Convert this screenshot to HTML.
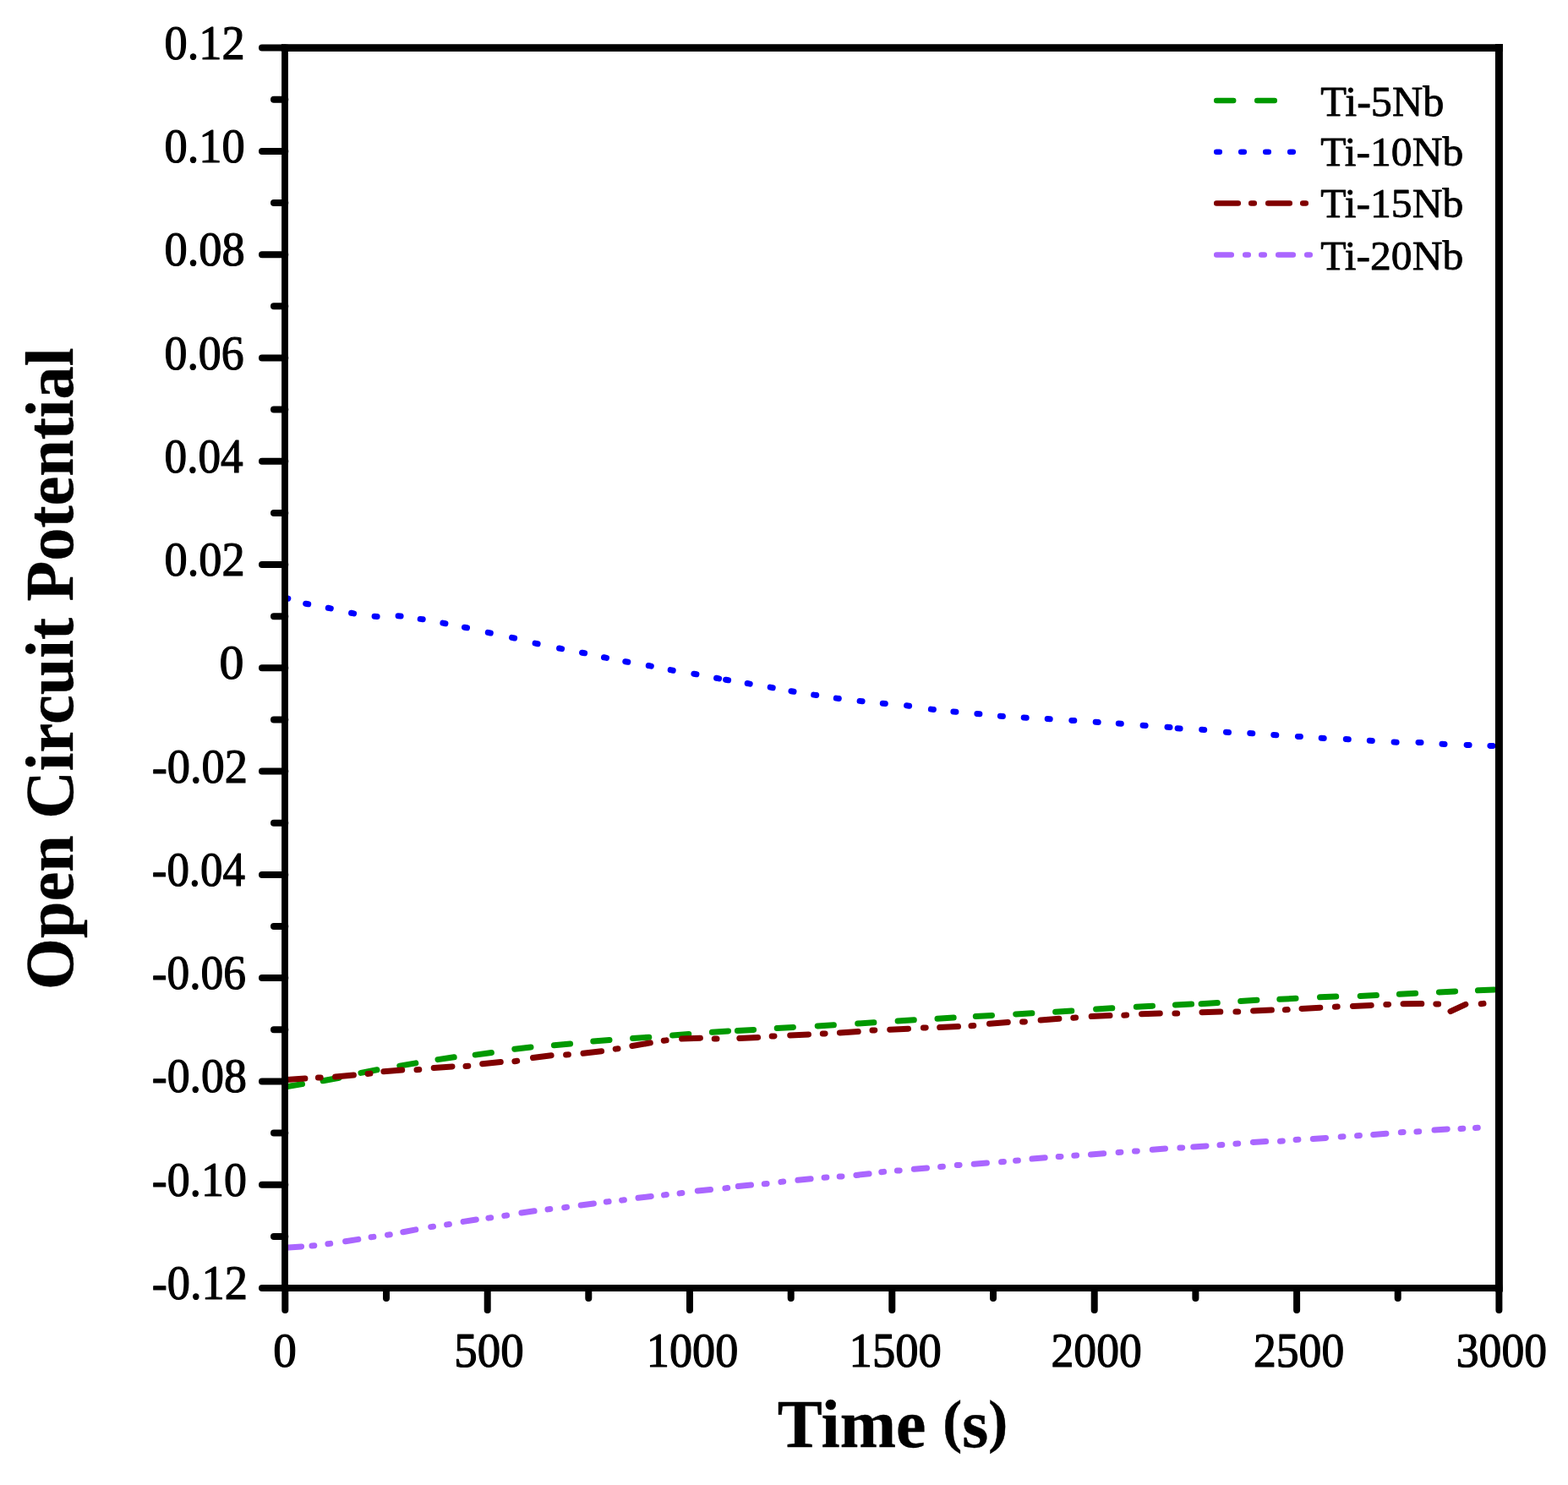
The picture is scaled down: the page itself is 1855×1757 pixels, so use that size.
<!DOCTYPE html>
<html><head><meta charset="utf-8"><title>Open Circuit Potential vs Time</title>
<style>html,body{margin:0;padding:0;background:#fff;overflow:hidden}svg{display:block}</style>
</head><body>
<svg width="1855" height="1757" viewBox="0 0 1855 1757"><rect x="0" y="0" width="1855" height="1757" fill="#fff"/>
<g><path d="M338.5 1285.8L357.5 1282.6M382.1 1278.8L401.1 1275.2M427.0 1269.4L446.0 1265.8M472.8 1261.1L491.8 1257.9M518.0 1253.6L537.2 1250.8M562.2 1248.1L581.4 1245.5M608.8 1241.2L628.0 1239.0M655.4 1236.7L674.6 1234.9M701.8 1232.0L721.0 1230.4M748.6 1228.6L767.8 1227.2M795.6 1225.0L814.8 1223.6M842.4 1221.3L861.6 1219.9M872.4 1219.6L891.6 1218.4M919.2 1216.6L938.4 1215.4M967.2 1213.9L986.4 1212.7M1014.7 1211.0L1033.9 1209.8M1062.1 1208.0L1081.3 1206.8M1109.0 1205.3L1128.2 1204.1M1154.3 1202.6L1173.5 1201.4M1201.7 1199.9L1220.9 1198.7M1248.6 1197.2L1267.8 1196.0M1296.6 1194.0L1315.8 1192.8M1344.3 1191.2L1363.5 1190.2M1390.4 1188.9L1409.6 1188.1M1421.1 1187.8L1440.3 1186.6M1467.7 1184.5L1486.9 1183.3M1513.8 1182.3L1533.0 1181.3M1561.5 1179.8L1580.7 1179.0M1609.2 1178.4L1628.4 1177.6M1655.4 1176.3L1674.6 1175.3M1702.4 1173.9L1721.6 1172.9M1748.4 1171.8L1767.6 1171.0" fill="none" stroke="#009900" stroke-width="7.0" stroke-linecap="round"/><path d="M339.1 1277.4L360.9 1276.0M376.4 1275.1L379.2 1274.9M396.6 1273.9L418.4 1272.1M435.1 1270.5L437.9 1270.1M453.9 1267.7L475.7 1265.9M493.0 1265.8L495.8 1265.6M513.2 1263.5L535.0 1261.9M551.0 1261.5L553.8 1261.3M570.7 1258.7L592.3 1256.5M608.9 1255.7L611.7 1255.3M630.5 1251.5L652.1 1248.7M669.6 1248.0L672.4 1247.8M690.0 1246.3L711.6 1243.7M728.2 1241.1L731.0 1240.7M747.9 1237.5L769.3 1233.9M785.3 1231.3L788.1 1230.9M806.6 1229.0L828.4 1228.2M845.2 1229.1L848.0 1229.1M874.8 1228.4L896.6 1227.4M913.2 1226.1L916.0 1225.9M934.7 1224.9L956.5 1223.9M973.3 1223.1L976.1 1222.9M993.4 1221.9L1015.2 1220.5M1032.0 1219.1L1034.8 1218.9M1052.7 1218.2L1074.5 1217.2M1092.4 1216.1L1095.2 1215.9M1111.7 1215.5L1133.5 1214.5M1149.0 1213.7L1151.8 1213.5M1170.5 1211.2L1192.3 1209.6M1209.6 1209.1L1212.4 1208.9M1231.1 1207.0L1252.9 1205.2M1269.8 1204.3L1272.6 1204.1M1291.2 1202.5L1313.0 1201.5M1329.8 1201.3L1332.6 1201.1M1350.5 1199.7L1372.3 1198.9M1389.9 1199.0L1392.7 1199.0M1422.0 1197.7L1443.8 1197.1M1461.9 1197.1L1464.7 1197.1M1482.6 1195.9L1504.4 1195.1M1520.4 1194.8L1523.2 1194.6M1540.0 1193.4L1561.8 1192.2M1579.4 1191.3L1582.2 1191.1M1600.4 1190.4L1622.2 1189.4M1639.8 1188.6L1642.6 1188.4M1660.0 1187.8L1681.8 1187.6M1698.8 1187.9L1701.6 1188.1M1716.0 1196.6L1733.8 1188.3M1752.2 1187.8L1755.0 1187.4" fill="none" stroke="#800000" stroke-width="7.0" stroke-linecap="round"/><path d="M341.4 1476.1L356.6 1474.9M369.0 1473.9L371.8 1473.7M387.9 1471.8L390.7 1471.4M408.6 1468.8L423.8 1466.4M439.1 1463.8L441.9 1463.4M458.5 1461.1L461.3 1460.7M476.8 1457.7L491.8 1454.9M509.7 1451.6L512.5 1451.2M528.6 1448.9L531.4 1448.5M548.1 1445.4L563.3 1443.0M577.9 1441.1L580.7 1440.7M596.8 1438.4L599.6 1438.0M616.9 1435.0L632.1 1432.8M648.0 1430.9L650.8 1430.5M667.7 1428.7L670.5 1428.3M687.2 1426.0L702.4 1424.0M717.3 1422.0L720.1 1421.6M735.6 1420.1L738.4 1419.7M755.0 1417.3L770.2 1415.5M785.5 1413.9L788.3 1413.5M804.1 1411.9L806.9 1411.5M825.3 1409.0L840.5 1407.4M857.9 1405.9L860.7 1405.5M873.3 1403.6L888.5 1402.0M904.3 1400.7L907.1 1400.5M923.9 1398.4L926.7 1398.0M943.9 1396.3L959.1 1394.7M975.1 1393.2L977.9 1393.0M993.2 1392.1L996.0 1391.9M1012.9 1390.4L1028.1 1388.8M1042.8 1386.8L1045.6 1386.4M1061.4 1385.1L1064.2 1384.9M1081.3 1383.3L1096.5 1381.9M1112.6 1380.5L1115.4 1380.3M1132.3 1378.6L1135.1 1378.4M1152.2 1377.2L1167.4 1376.0M1184.6 1374.8L1187.4 1374.6M1201.6 1373.2L1204.4 1373.0M1221.0 1371.1L1236.2 1369.7M1252.2 1368.6L1255.0 1368.4M1270.8 1367.3L1273.6 1367.1M1290.5 1365.9L1305.7 1364.7M1323.1 1363.5L1325.9 1363.3M1342.5 1362.1L1345.3 1361.9M1363.3 1360.2L1378.5 1359.0M1395.9 1358.1L1398.7 1357.9M1411.8 1356.9L1427.0 1355.9M1443.0 1354.8L1445.8 1354.6M1461.9 1353.2L1464.7 1353.0M1482.4 1351.4L1497.6 1350.6M1514.5 1350.3L1517.3 1350.1M1533.1 1348.4L1535.9 1348.2M1553.3 1347.4L1568.5 1346.4M1586.2 1344.9L1589.0 1344.7M1605.6 1343.8L1608.4 1343.6M1624.7 1342.4L1639.9 1341.2M1657.3 1339.7L1660.1 1339.5M1675.9 1338.9L1678.7 1338.7M1697.0 1336.9L1712.2 1335.9M1728.0 1335.4L1730.8 1335.2M1745.5 1334.4L1748.3 1334.2" fill="none" stroke="#AA66FF" stroke-width="7.0" stroke-linecap="round"/><path d="M338.0 707.4L340.8 708.2M361.7 714.2L364.7 714.8M388.3 719.3L391.3 719.9M415.6 725.3L418.6 725.9M443.1 729.2L446.1 729.4M471.1 728.7L474.1 728.9M497.2 732.4L500.2 732.8M523.9 737.1L526.9 737.7M549.5 742.2L552.5 742.8M577.3 748.4L580.3 749.0M605.6 754.4L608.6 755.0M633.1 761.1L636.1 761.7M661.6 767.0L664.6 767.6M688.6 772.2L691.6 772.8M714.5 777.8L717.5 778.4M739.8 782.7L742.8 783.3M767.3 787.5L770.3 788.1M793.2 792.6L796.2 793.2M820.9 797.2L823.9 797.8M847.6 802.3L850.6 802.9M858.6 804.2L861.6 804.8M884.2 808.5L887.2 809.1M911.2 813.1L914.2 813.7M936.0 817.7L939.0 818.3M962.7 822.1L965.7 822.5M989.3 826.1L992.3 826.5M1017.1 829.4L1020.1 829.8M1044.3 832.2L1047.3 832.4M1072.6 834.8L1075.6 835.2M1101.4 839.1L1104.4 839.5M1127.9 842.1L1130.9 842.3M1155.9 844.6L1158.9 844.8M1183.4 847.3L1186.4 847.5M1211.2 849.1L1214.2 849.3M1239.2 850.5L1242.2 850.7M1267.8 852.4L1270.8 852.6M1296.2 854.2L1299.2 854.4M1323.3 856.0L1326.3 856.2M1352.1 858.2L1355.1 858.4M1381.0 860.3L1384.0 860.5M1393.1 861.7L1396.1 861.9M1421.7 863.3L1424.7 863.5M1450.5 866.3L1453.5 866.5M1478.8 867.6L1481.8 867.8M1506.8 869.5L1509.8 869.7M1535.4 871.4L1538.4 871.6M1563.2 873.3L1566.2 873.5M1592.3 874.6L1595.3 874.8M1620.3 876.2L1623.3 876.4M1649.1 878.1L1652.1 878.3M1678.0 878.4L1681.0 878.6M1706.0 880.3L1709.0 880.5M1735.1 881.4L1738.1 881.6M1762.9 882.4L1765.9 882.6" fill="none" stroke="#0000FF" stroke-width="7.0" stroke-linecap="round"/></g>
<path d="M337.3 56.6H1773.4" fill="none" stroke="#000" stroke-width="8.9" stroke-linecap="square"/><path d="M1773.4 56.6V1524.0" fill="none" stroke="#000" stroke-width="9" stroke-linecap="square"/><path d="M337 56.6V1524.0" fill="none" stroke="#000" stroke-width="7.8" stroke-linecap="square"/><path d="M337.3 1524.0H1773.4" fill="none" stroke="#000" stroke-width="7.8" stroke-linecap="square"/><path d="M337.3 56.6H310M337.3 178.9H310M337.3 301.2H310M337.3 423.5H310M337.3 545.7H310M337.3 668.0H310M337.3 790.3H310M337.3 912.6H310M337.3 1034.9H310M337.3 1157.1H310M337.3 1279.4H310M337.3 1401.7H310M337.3 1524.0H310M337.3 117.7H324M337.3 240.0H324M337.3 362.3H324M337.3 484.6H324M337.3 606.9H324M337.3 729.2H324M337.3 851.4H324M337.3 973.7H324M337.3 1096.0H324M337.3 1218.3H324M337.3 1340.6H324M337.3 1462.9H324M337.3 1524.0V1550M576.7 1524.0V1550M816.0 1524.0V1550M1055.3 1524.0V1550M1294.7 1524.0V1550M1534.1 1524.0V1550M1773.4 1524.0V1550M457.0 1524.0V1536M696.3 1524.0V1536M935.7 1524.0V1536M1175.0 1524.0V1536M1414.4 1524.0V1536M1653.7 1524.0V1536" fill="none" stroke="#000" stroke-width="8" stroke-linecap="round"/>
<g fill="#000"><text transform="translate(194.48 69.75) scale(0.9537 0.9828)" font-family="Liberation Serif, serif" font-size="57" stroke="#000" stroke-width="1.2" stroke-linejoin="round">0.12</text><text transform="translate(194.49 192.03) scale(0.9539 0.9828)" font-family="Liberation Serif, serif" font-size="57" stroke="#000" stroke-width="1.2" stroke-linejoin="round">0.10</text><text transform="translate(194.49 314.25) scale(0.9539 0.9828)" font-family="Liberation Serif, serif" font-size="57" stroke="#000" stroke-width="1.2" stroke-linejoin="round">0.08</text><text transform="translate(194.50 436.53) scale(0.9443 0.9828)" font-family="Liberation Serif, serif" font-size="57" stroke="#000" stroke-width="1.2" stroke-linejoin="round">0.06</text><text transform="translate(194.53 558.81) scale(0.9342 0.9828)" font-family="Liberation Serif, serif" font-size="57" stroke="#000" stroke-width="1.2" stroke-linejoin="round">0.04</text><text transform="translate(194.48 681.06) scale(0.9537 0.9828)" font-family="Liberation Serif, serif" font-size="57" stroke="#000" stroke-width="1.2" stroke-linejoin="round">0.02</text><text transform="translate(259.46 803.34) scale(1.0162 0.9828)" font-family="Liberation Serif, serif" font-size="57" stroke="#000" stroke-width="1.2" stroke-linejoin="round">0</text><text transform="translate(179.69 925.61) scale(0.9542 0.9828)" font-family="Liberation Serif, serif" font-size="57" stroke="#000" stroke-width="1.2" stroke-linejoin="round">-0.02</text><text transform="translate(179.74 1047.90) scale(0.9296 0.9828)" font-family="Liberation Serif, serif" font-size="57" stroke="#000" stroke-width="1.2" stroke-linejoin="round">-0.04</text><text transform="translate(179.73 1170.12) scale(0.9376 0.9828)" font-family="Liberation Serif, serif" font-size="57" stroke="#000" stroke-width="1.2" stroke-linejoin="round">-0.06</text><text transform="translate(179.71 1292.40) scale(0.9459 0.9828)" font-family="Liberation Serif, serif" font-size="57" stroke="#000" stroke-width="1.2" stroke-linejoin="round">-0.08</text><text transform="translate(179.71 1414.68) scale(0.9459 0.9828)" font-family="Liberation Serif, serif" font-size="57" stroke="#000" stroke-width="1.2" stroke-linejoin="round">-0.10</text><text transform="translate(179.69 1536.93) scale(0.9542 0.9828)" font-family="Liberation Serif, serif" font-size="57" stroke="#000" stroke-width="1.2" stroke-linejoin="round">-0.12</text><text transform="translate(323.37 1616.60) scale(0.9683 1.0122)" font-family="Liberation Serif, serif" font-size="57" stroke="#000" stroke-width="1.2" stroke-linejoin="round">0</text><text transform="translate(537.30 1616.60) scale(0.9642 1.0122)" font-family="Liberation Serif, serif" font-size="57" stroke="#000" stroke-width="1.2" stroke-linejoin="round">500</text><text transform="translate(764.84 1616.60) scale(0.9516 1.0122)" font-family="Liberation Serif, serif" font-size="57" stroke="#000" stroke-width="1.2" stroke-linejoin="round">1000</text><text transform="translate(1004.58 1616.60) scale(0.9581 1.0122)" font-family="Liberation Serif, serif" font-size="57" stroke="#000" stroke-width="1.2" stroke-linejoin="round">1500</text><text transform="translate(1243.55 1616.60) scale(0.9414 1.0122)" font-family="Liberation Serif, serif" font-size="57" stroke="#000" stroke-width="1.2" stroke-linejoin="round">2000</text><text transform="translate(1482.94 1616.60) scale(0.9414 1.0122)" font-family="Liberation Serif, serif" font-size="57" stroke="#000" stroke-width="1.2" stroke-linejoin="round">2500</text><text transform="translate(1722.77 1616.60) scale(0.9415 1.0122)" font-family="Liberation Serif, serif" font-size="57" stroke="#000" stroke-width="1.2" stroke-linejoin="round">3000</text><text transform="translate(1562.21 136.70) scale(0.9863 0.9752)" font-family="Liberation Serif, serif" font-size="51" stroke="#000" stroke-width="0.8" stroke-linejoin="round">Ti-5Nb</text><text transform="translate(1562.22 196.48) scale(0.9726 0.9534)" font-family="Liberation Serif, serif" font-size="51" stroke="#000" stroke-width="0.8" stroke-linejoin="round">Ti-10Nb</text><text transform="translate(1562.22 257.09) scale(0.9726 0.9564)" font-family="Liberation Serif, serif" font-size="51" stroke="#000" stroke-width="0.8" stroke-linejoin="round">Ti-15Nb</text><text transform="translate(1562.22 319.26) scale(0.9726 0.9446)" font-family="Liberation Serif, serif" font-size="51" stroke="#000" stroke-width="0.8" stroke-linejoin="round">Ti-20Nb</text><text transform="translate(919.80 1711.72) scale(0.9961 1.0135)" font-family="Liberation Serif, serif" font-size="80" font-weight="bold" stroke="#000" stroke-width="0.4" stroke-linejoin="round">Time <tspan font-size="69" dy="-7">(</tspan><tspan font-size="80" dy="7">s</tspan><tspan font-size="69" dy="-7">)</tspan></text><text transform="translate(86.20 1170.91) rotate(-90) scale(0.9785 0.9934)" font-family="Liberation Serif, serif" font-size="80" font-weight="bold" stroke="#000" stroke-width="0.4" stroke-linejoin="round">Open Circuit Potential</text></g>
<path d="M1439.2 118.9H1459.2M1487.2 118.9H1507.8" fill="none" stroke="#009900" stroke-width="6.5" stroke-linecap="round"/><path d="M1439.2 179.8H1442.8M1468.2 179.8H1471.8M1497.2 179.8H1500.8M1526.2 179.8H1529.8" fill="none" stroke="#0000FF" stroke-width="6.5" stroke-linecap="round"/><path d="M1439.2 240.6H1464.8M1480.2 240.6H1483.8M1500.2 240.6H1525.8M1541.2 240.6H1544.8" fill="none" stroke="#800000" stroke-width="6.5" stroke-linecap="round"/><path d="M1439.2 301.5H1456.8M1473.2 301.5H1476.8M1492.2 301.5H1495.8M1512.2 301.5H1529.8M1546.2 301.5H1549.8" fill="none" stroke="#AA66FF" stroke-width="6.5" stroke-linecap="round"/></svg>
</body></html>
